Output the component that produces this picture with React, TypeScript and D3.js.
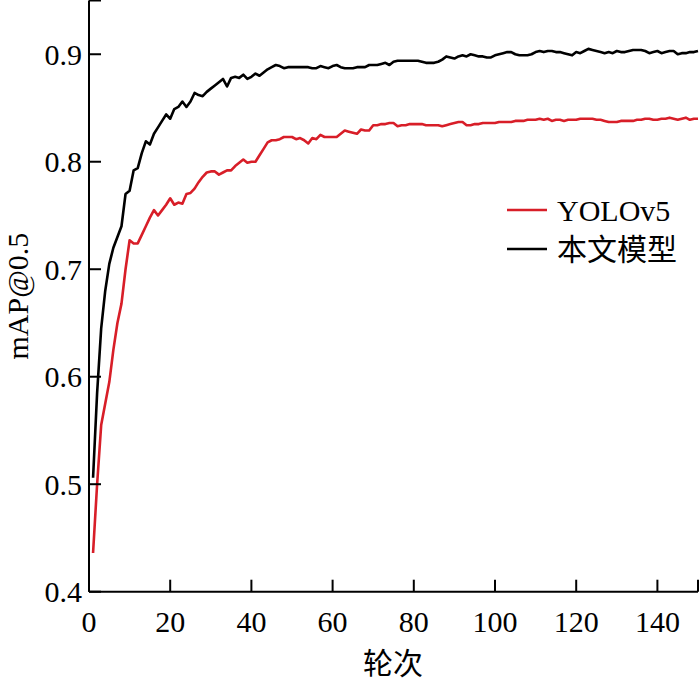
import * as d3 from "d3";

// mAP@0.5 per epoch
const yoloV5 = [
  0.436, 0.500, 0.555, 0.575, 0.595, 0.625, 0.650, 0.668, 0.700, 0.727,
  0.724, 0.724, 0.732, 0.740, 0.748, 0.755, 0.750, 0.755, 0.760, 0.766,
  0.760, 0.762, 0.761, 0.770, 0.771, 0.775, 0.781, 0.786, 0.790, 0.791,
  0.791, 0.788, 0.790, 0.792, 0.792, 0.796, 0.799, 0.802, 0.799, 0.800,
  0.800, 0.806, 0.812, 0.818, 0.820, 0.820, 0.821, 0.823, 0.823, 0.823,
  0.821, 0.822, 0.820, 0.817, 0.822, 0.821, 0.825, 0.823, 0.823, 0.823,
  0.823, 0.826, 0.829, 0.828, 0.827, 0.826, 0.830, 0.829, 0.829, 0.834,
  0.834, 0.835, 0.835, 0.836, 0.836, 0.833, 0.834, 0.834, 0.835, 0.835,
  0.835, 0.835, 0.834, 0.834, 0.834, 0.834, 0.833, 0.834, 0.835, 0.836,
  0.837, 0.837, 0.834, 0.834, 0.835, 0.835, 0.836, 0.836, 0.836, 0.836,
  0.837, 0.837, 0.837, 0.837, 0.838, 0.838, 0.838, 0.839, 0.839, 0.839,
  0.840, 0.839, 0.840, 0.838, 0.839, 0.839, 0.838, 0.839, 0.839, 0.839,
  0.840, 0.840, 0.840, 0.840, 0.839, 0.839, 0.838, 0.837, 0.837, 0.837,
  0.838, 0.838, 0.838, 0.838, 0.839, 0.839, 0.840, 0.840, 0.839, 0.839,
  0.840, 0.840, 0.841, 0.840, 0.839, 0.840, 0.841, 0.839, 0.840, 0.840,
];

const ours = [
  0.506, 0.585, 0.645, 0.680, 0.705, 0.720, 0.730, 0.740, 0.770, 0.773,
  0.792, 0.794, 0.808, 0.819, 0.816, 0.826, 0.832, 0.838, 0.844, 0.840,
  0.849, 0.851, 0.856, 0.851, 0.856, 0.864, 0.862, 0.861, 0.865, 0.868,
  0.871, 0.874, 0.877, 0.870, 0.878, 0.879, 0.878, 0.881, 0.877, 0.879,
  0.882, 0.880, 0.883, 0.886, 0.888, 0.890, 0.889, 0.887, 0.888, 0.888,
  0.888, 0.888, 0.888, 0.888, 0.887, 0.887, 0.889, 0.888, 0.887, 0.889,
  0.890, 0.888, 0.887, 0.887, 0.887, 0.888, 0.888, 0.888, 0.890, 0.890,
  0.890, 0.891, 0.892, 0.890, 0.893, 0.894, 0.894, 0.894, 0.894, 0.894,
  0.894, 0.893, 0.892, 0.892, 0.892, 0.893, 0.895, 0.898, 0.897, 0.896,
  0.898, 0.899, 0.898, 0.900, 0.899, 0.898, 0.898, 0.897, 0.897, 0.899,
  0.900, 0.901, 0.902, 0.902, 0.900, 0.899, 0.899, 0.899, 0.900, 0.902,
  0.903, 0.902, 0.903, 0.903, 0.902, 0.902, 0.901, 0.900, 0.899, 0.902,
  0.901, 0.903, 0.905, 0.904, 0.903, 0.902, 0.901, 0.902, 0.901, 0.903,
  0.902, 0.902, 0.903, 0.904, 0.904, 0.904, 0.903, 0.901, 0.902, 0.903,
  0.901, 0.902, 0.903, 0.903, 0.900, 0.901, 0.901, 0.902, 0.902, 0.903,
];

const xTicks = [0, 20, 40, 60, 80, 100, 120, 140];
const yTicks = [0.4, 0.5, 0.6, 0.7, 0.8, 0.9];

const series = [
  { name: "YOLOv5", values: yoloV5, color: "#d81e28" },
  { name: "本文模型", values: ours, color: "#000000" },
];

const width = 700;
const height = 685;
const left = 89;
const right = 698;
const top = 0.5;
const bottom = 591.7;
const tickLen = 12;
const fontSize = 30;
const serif = "'Liberation Serif', 'DejaVu Serif', serif";
const cjk = "'Noto Sans CJK SC', sans-serif";

export default function App() {
  const x = d3.scaleLinear([0, 150], [left, right]);
  const y = d3.scaleLinear([0.4, 0.95], [bottom, top]);

  const line = d3
    .line<number>()
    .x((_, i) => x(i + 1))
    .y((d) => y(d));

  return (
    <div style={{ position: "absolute", left: 0, top: 0 }}>
      <svg width={width} height={height} style={{ display: "block", background: "white" }}>
        {/* data lines */}
        {series.map((s) => (
          <path
            key={s.name}
            d={line(s.values) ?? ""}
            fill="none"
            stroke={s.color}
            strokeWidth={2.6}
            strokeLinejoin="round"
          />
        ))}

        {/* axes */}
        <line x1={left} x2={left} y1={top} y2={bottom} stroke="black" strokeWidth={2} />
        <line x1={left} x2={right} y1={bottom} y2={bottom} stroke="black" strokeWidth={2} />

        {/* x ticks (inward), plus end tick at 150 */}
        {[...xTicks, 150].map((t) => (
          <line
            key={`xt-${t}`}
            x1={x(t)}
            x2={x(t)}
            y1={bottom}
            y2={bottom - tickLen}
            stroke="black"
            strokeWidth={2}
          />
        ))}
        {xTicks.map((t) => (
          <text
            key={`xl-${t}`}
            x={x(t)}
            y={632}
            textAnchor="middle"
            fontFamily={serif}
            fontSize={fontSize}
          >
            {t}
          </text>
        ))}

        {/* y ticks (inward), plus end tick at 0.95 */}
        {[...yTicks, 0.95].map((t) => (
          <line
            key={`yt-${t}`}
            x1={left}
            x2={left + tickLen}
            y1={y(t)}
            y2={y(t)}
            stroke="black"
            strokeWidth={2}
          />
        ))}
        {yTicks.map((t) => (
          <text
            key={`yl-${t}`}
            x={82}
            y={y(t)}
            dy="0.35em"
            textAnchor="end"
            fontFamily={serif}
            fontSize={fontSize}
          >
            {t.toFixed(1)}
          </text>
        ))}

        {/* axis titles */}
        <text x={393} y={674} textAnchor="middle" fontFamily={cjk} fontSize={fontSize}>
          轮次
        </text>
        <text
          transform={`translate(28,${(top + bottom) / 2}) rotate(-90)`}
          textAnchor="middle"
          fontFamily={serif}
          fontSize={fontSize}
        >
          mAP@0.5
        </text>

        {/* legend */}
        {series.map((s, i) => (
          <g key={`lg-${s.name}`} transform={`translate(507,${210 + i * 39})`}>
            <line x1={0} x2={40} y1={0} y2={0} stroke={s.color} strokeWidth={2.6} />
            <text
              x={50}
              y={0}
              dy="0.35em"
              fontFamily={i === 0 ? serif : cjk}
              fontSize={fontSize}
            >
              {s.name}
            </text>
          </g>
        ))}
      </svg>
    </div>
  );
}
